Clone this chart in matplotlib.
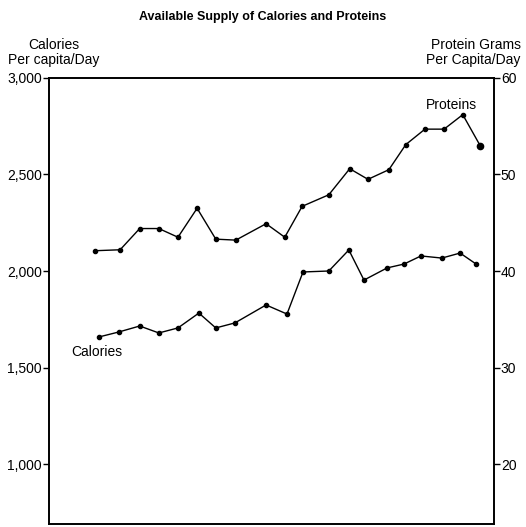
import numpy as np
import matplotlib
matplotlib.use("Agg")
import matplotlib.pyplot as plt
from matplotlib.ticker import FuncFormatter

plt.rcParams['font.family'] = ['Liberation Sans', 'DejaVu Sans']

# time positions (no labelled x axis in the original, arbitrary 0-100 scale)
x_prot = [10.3, 16.0, 20.4, 24.7, 29.0, 33.3, 37.5, 42.0, 48.8, 53.0,
          56.9, 62.9, 67.6, 71.7, 76.4, 80.2, 84.5, 88.8, 93.0, 96.9]
proteins = [42.1, 42.2, 44.4, 44.4, 43.5, 46.5, 43.3, 43.2, 44.9, 43.5,
            46.7, 47.9, 50.6, 49.5, 50.5, 53.1, 54.7, 54.7, 56.2, 53.0]

x_cal = [11.2, 15.7, 20.4, 24.7, 29.0, 33.7, 37.5, 41.8, 48.8, 53.5,
         57.1, 62.9, 67.4, 70.8, 76.0, 79.8, 83.6, 88.3, 92.4, 96.0]
calories = [1658, 1684, 1715, 1679, 1705, 1782, 1705, 1731, 1824, 1777,
            1995, 2000, 2109, 1953, 2016, 2036, 2078, 2067, 2093, 2036]

cal_ticks = [1000, 1500, 2000, 2500, 3000]
prot_ticks = [20, 30, 40, 50, 60]

fig = plt.figure(figsize=(5.26, 5.27), dpi=100)
ax = fig.add_axes([0.093, 0.006, 0.846, 0.846])
ax2 = ax.twinx()

ax.plot(x_cal, calories, color='black', lw=1.0, marker='o', ms=3)
ax2.plot(x_prot, proteins, color='black', lw=1.0, marker='o', ms=3)
ax2.plot(x_prot[-1:], proteins[-1:], 'o', color='black', ms=4.5)

ax.set_xlim(0, 100)
ax.set_ylim(690, 3000)
ax2.set_ylim(13.8, 60)

ax.set_xticks([])
ax.set_yticks(cal_ticks)
ax.yaxis.set_major_formatter(FuncFormatter(lambda v, p: f'{int(v):,}'))
ax2.set_yticks(prot_ticks)

for a in (ax, ax2):
    for s in a.spines.values():
        s.set_linewidth(1.2)
    a.tick_params(axis='y', length=4, width=1, labelsize=10, pad=1)

ax.text(0.905, 0.94, 'Proteins', transform=ax.transAxes, ha='center',
        va='center', fontsize=10)
ax.text(0.05, 0.386, 'Calories', transform=ax.transAxes, ha='left',
        va='center', fontsize=10)

fig.text(0.5, 0.967, 'Available Supply of Calories and Proteins',
         ha='center', va='center', fontsize=9, fontweight='bold')
fig.text(0.103, 0.9, 'Calories\nPer capita/Day', ha='center', va='center',
         fontsize=10, linespacing=1.1)
fig.text(0.99, 0.9, 'Protein Grams\nPer Capita/Day', ha='right',
         va='center', fontsize=10, linespacing=1.1, multialignment='right')

fig.savefig('out.png', dpi=100)
